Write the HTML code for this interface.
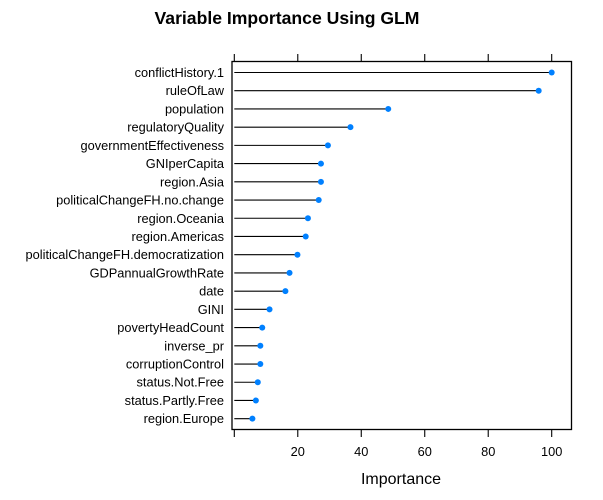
<!DOCTYPE html>
<html><head><meta charset="utf-8"><style>
body{margin:0;background:#fff;}
svg{display:block;font-family:"Liberation Sans",Arial,sans-serif;}
</style></head><body>
<svg id="chart" width="603" height="500" viewBox="0 0 603 500">
<text x="287" y="24" text-anchor="middle" font-size="17.6" font-weight="bold">Variable Importance Using GLM</text>
<rect x="232" y="61.5" width="339.5" height="368" fill="none" stroke="#000" stroke-width="1.3"/>
<g id="rows"></g>
<g id="axes"></g>
<text x="401" y="484" text-anchor="middle" font-size="16">Importance</text>
</svg>
<script>
const categories = ["conflictHistory.1","ruleOfLaw","population","regulatoryQuality","governmentEffectiveness","GNIperCapita","region.Asia","politicalChangeFH.no.change","region.Oceania","region.Americas","politicalChangeFH.democratization","GDPannualGrowthRate","date","GINI","povertyHeadCount","inverse_pr","corruptionControl","status.Not.Free","status.Partly.Free","region.Europe"];
const importance = [100,95.9,48.5,36.6,29.5,27.3,27.3,26.6,23.2,22.5,19.9,17.4,16.1,11.1,8.8,8.2,8.2,7.4,6.8,5.7];
const ticks = [0,20,40,60,80,100];
const tickLabels = ["","20","40","60","80","100"];

const ns="http://www.w3.org/2000/svg";
const x=v=>234.3+v*3.174;
const y=i=>72.5+i*18.22;
function mk(tag,attrs,parent){const e=document.createElementNS(ns,tag);for(const k in attrs)e.setAttribute(k,attrs[k]);parent.appendChild(e);return e;}
const rows=document.getElementById('rows'), axes=document.getElementById('axes');
categories.forEach((c,i)=>{
  const t=mk('text',{x:224,y:y(i)+4.5,'text-anchor':'end','font-size':12.8},rows);
  t.textContent=c;
  
  
  const l=mk('line',{x1:x(0),x2:x(importance[i]),y1:y(i),y2:y(i),stroke:'#000','stroke-width':1.1},rows);
  
  
  const d=mk('circle',{cx:x(importance[i]),cy:y(i),r:3,fill:'#0080ff'},rows);
  
  
});
ticks.forEach((v,i)=>{
  const tt=mk('line',{x1:x(v),x2:x(v),y1:54,y2:61.5,stroke:'#000','stroke-width':1.1},axes);
  
  
  const tb=mk('line',{x1:x(v),x2:x(v),y1:429.5,y2:437,stroke:'#000','stroke-width':1.1},axes);
  
  
  const lb=mk('text',{x:x(v),y:456,'text-anchor':'middle','font-size':12.8},axes);
  lb.textContent=tickLabels[i];
  
  
});
</script>
</body></html>
